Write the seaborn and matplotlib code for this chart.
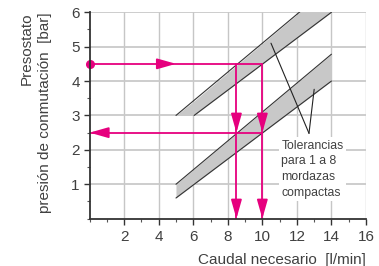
import numpy as np
import pandas as pd
import matplotlib
matplotlib.use("Agg")
import matplotlib.pyplot as plt
import seaborn as sns

# ---- data ----
x_ticks = [2, 4, 6, 8, 10, 12, 14, 16]
y_ticks = [1, 2, 3, 4, 5, 6]

# lower tolerance band (x, lower edge, upper edge)
low_band_x = [5.0, 14.0]
low_band_lo = [0.6, 4.0]
low_band_hi = [1.0, 4.78]
# upper tolerance band
up_band_x = [5.0, 6.05, 14.0]
up_band_lo = [3.0, 3.0, 6.0]
up_band_hi = [3.0, 3.42, 6.78]

flow_a = 8.5      # l/min
flow_b = 10.0     # l/min
p_high = 4.5      # bar
p_low = 2.5       # bar

note_text = "Tolerancias\npara 1 a 8\nmordazas\ncompactas"
leader_start = [(10.5, 5.1), (13.0, 3.76)]
leader_end = (12.7, 2.48)

PINK = "#e6007e"
TXT = "#404040"

sns.set_theme(style="white")
plt.rcParams["font.family"] = ["Liberation Sans", "DejaVu Sans"]

fig = plt.figure(figsize=(3.79, 2.66), dpi=100)
ax = fig.add_axes([0.2364, 0.178, 0.7293, 0.776])

ax.set_xlim(0, 16)
ax.set_ylim(0, 6)

# grid
for xv in x_ticks:
    ax.axvline(xv, color="#c6c6c6", lw=1.0, zorder=0)
for yv in y_ticks:
    ax.axhline(yv, color="#c9c9c9", lw=1.3, zorder=0)

# bands
ax.fill_between(low_band_x, low_band_lo, low_band_hi, color="#c8c8c8", lw=0, zorder=1)
ax.fill_between(up_band_x, up_band_lo, up_band_hi, color="#c8c8c8", lw=0, zorder=1)
edges = pd.concat([
    pd.DataFrame({"x": low_band_x, "y": low_band_lo, "e": "a"}),
    pd.DataFrame({"x": low_band_x, "y": low_band_hi, "e": "b"}),
    pd.DataFrame({"x": up_band_x[1:], "y": up_band_lo[1:], "e": "c"}),
    pd.DataFrame({"x": [up_band_x[0], up_band_x[-1]], "y": [up_band_hi[0], up_band_hi[-1]], "e": "d"}),
])
sns.lineplot(data=edges, x="x", y="y", units="e", estimator=None, color="#333333",
             lw=0.8, ax=ax, zorder=2, legend=False)

# pink lines
lw = 1.3
ax.plot([0, flow_b], [p_high, p_high], color=PINK, lw=lw, zorder=4)
ax.plot([0, flow_b], [p_low, p_low], color=PINK, lw=lw, zorder=4)
ax.plot([flow_a, flow_a], [0, p_high], color=PINK, lw=lw, zorder=4)
ax.plot([flow_b, flow_b], [0, p_high], color=PINK, lw=lw, zorder=4)
ax.plot([0], [p_high], "o", color=PINK, ms=5.5, zorder=5, clip_on=False)

def arrow(tip, base):
    ax.annotate("", xy=tip, xytext=base, zorder=5,
                arrowprops=dict(arrowstyle="-|>,head_length=0.95,head_width=0.27",
                                color=PINK, lw=lw, shrinkA=0, shrinkB=0),
                annotation_clip=False)

arrow((5.0, p_high), (4.0, p_high))
arrow((0.0, p_low), (1.0, p_low))
arrow((flow_a, p_low), (flow_a, p_low + 0.5))
arrow((flow_b, p_low), (flow_b, p_low + 0.5))
arrow((flow_a, 0.0), (flow_a, 0.5))
arrow((flow_b, 0.0), (flow_b, 0.5))

# annotation
for s in leader_start:
    ax.plot([s[0], leader_end[0]], [s[1], leader_end[1]], color="#222222", lw=0.8, zorder=3)
ax.text(11.1, 2.3, note_text, fontsize=8.8, color=TXT, va="top", ha="left",
        linespacing=1.42, zorder=6,
        bbox=dict(facecolor="white", edgecolor="none", pad=1.5))

# axes styling
for side in ["top", "right"]:
    ax.spines[side].set_visible(False)
for side in ["left", "bottom"]:
    ax.spines[side].set_color("#333333")
    ax.spines[side].set_linewidth(1.3)
    ax.spines[side].set_zorder(6)

ax.set_xticks(x_ticks)
ax.set_xticklabels([str(v) for v in x_ticks])
ax.set_yticks(y_ticks)
ax.set_yticklabels([str(v) for v in y_ticks])
ax.set_xticks(np.arange(0, 17, 1), minor=True)
ax.set_yticks(np.arange(0, 6.5, 0.5), minor=True)
ax.tick_params(which="major", direction="out", length=4, width=1.0, color="#333333",
               labelsize=11, labelcolor=TXT, left=True, bottom=True)
ax.tick_params(axis="x", which="major", pad=4)
ax.tick_params(axis="y", which="major", pad=3)
ax.tick_params(which="minor", direction="out", length=2.5, width=0.8, color="#555555",
               left=True, bottom=True)

ax.set_xlabel("Caudal necesario  [l/min]", fontsize=11, color=TXT, loc="right", labelpad=7)
ax.set_ylabel("Presostato\npresión de conmutación  [bar]", fontsize=11, color=TXT,
              loc="top", labelpad=14, linespacing=1.35)

fig.savefig("out.png", dpi=100)
